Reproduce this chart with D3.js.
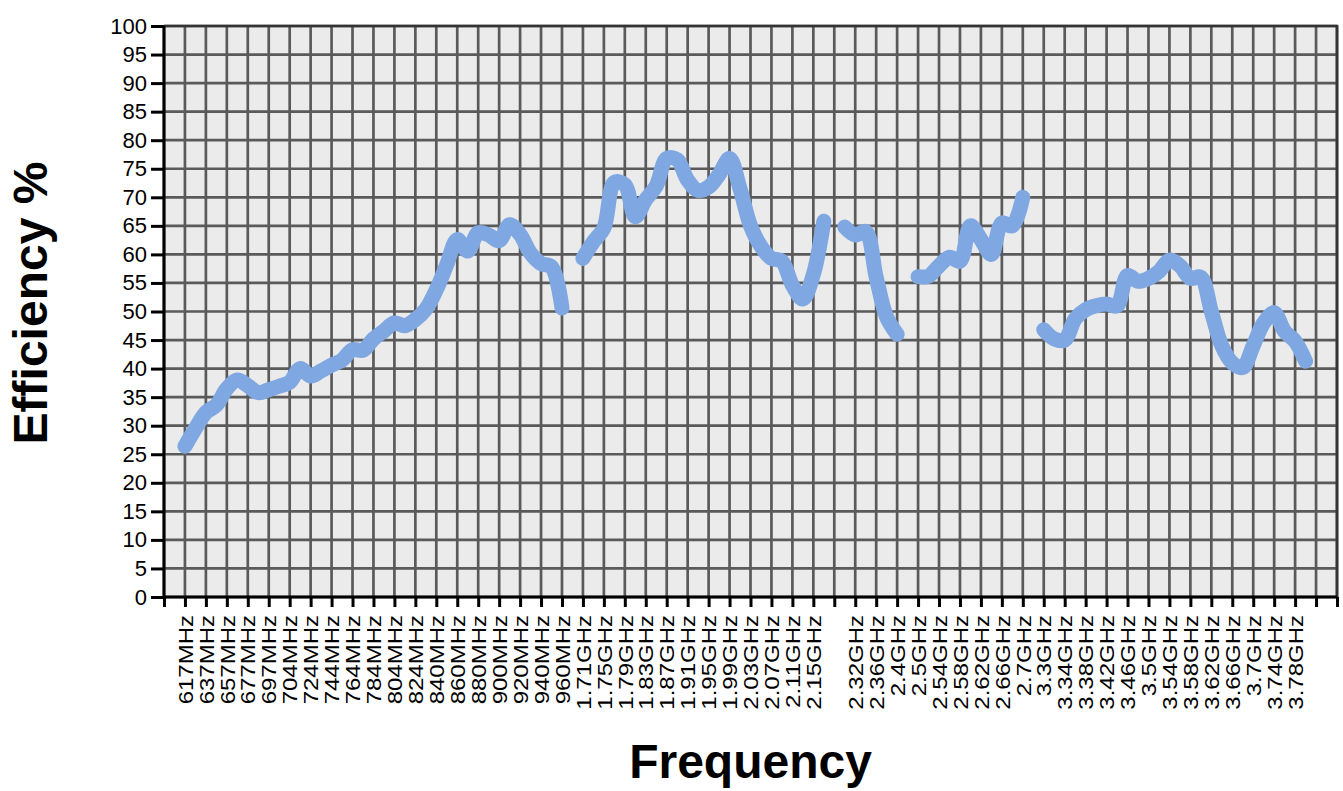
<!DOCTYPE html>
<html lang="en">
<head>
  <meta charset="utf-8">
  <title>Efficiency vs Frequency</title>
  <script src="https://d3js.org/d3.v7.min.js"></script>
  <style>
    body { margin: 0; background: #fff; font-family: "Liberation Sans", Arial, sans-serif; }
    svg { display: block; }
    .grid line { stroke: #5a5a5a; stroke-width: 2.7; }
    .axis path, .axis line { stroke: #000; stroke-width: 3; }
    .axis text { fill: #000; }
  </style>
</head>
<body>
  <svg></svg>
  <script>
    // Tick labels, one per vertical grid line (index 31 has no label)
    const tickLabels = [
      "617MHz", "637MHz", "657MHz", "677MHz", "697MHz", "704MHz", "724MHz", "744MHz",
      "764MHz", "784MHz", "804MHz", "824MHz", "840MHz", "860MHz", "880MHz", "900MHz",
      "920MHz", "940MHz", "960MHz",
      "1.71GHz", "1.75GHz", "1.79GHz", "1.83GHz", "1.87GHz", "1.91GHz", "1.95GHz",
      "1.99GHz", "2.03GHz", "2.07GHz", "2.11GHz", "2.15GHz", "",
      "2.32GHz", "2.36GHz", "2.4GHz", "2.5GHz", "2.54GHz", "2.58GHz", "2.62GHz",
      "2.66GHz", "2.7GHz",
      "3.3GHz", "3.34GHz", "3.38GHz", "3.42GHz", "3.46GHz", "3.5GHz", "3.54GHz",
      "3.58GHz", "3.62GHz", "3.66GHz", "3.7GHz", "3.74GHz", "3.78GHz"
    ];

    // Efficiency (%) measured at every half step of the label axis
    // (labels only shown for every other point); null = break in the curve
    const efficiency = [
      26.4, 29.5, 32.3, 33.6, 36.5, 38.0, 37.0, 35.8, 36.3, 36.9,
      37.6, 40.0, 38.7, 39.6, 40.6, 41.5, 43.3, 43.2, 45.2, 46.6,
      48.0, 47.5, 48.6, 50.4, 53.8, 58.2, 62.6, 60.6, 63.8, 63.4,
      62.4, 65.2, 63.5, 60.2, 58.4, 57.8, 50.6, null,
      59.3, 62.2, 64.6, 72.6, 72.2, 66.6, 69.6, 72.0, 76.8, 76.6,
      73.0, 71.2, 71.8, 74.0, 76.8, 71.5, 65.0, 61.4, 59.3, 58.8,
      54.6, 52.2, 56.5, 65.8, null,
      64.8, 63.4, 64.0, 56.0, 49.0, 46.0, null,
      56.1, 56.2, 58.0, 59.5, 58.8, 65.0, 62.6, 60.0, 65.5, 65.0, 70.0, null,
      46.8, 45.2, 45.0, 48.7, 50.3, 51.0, 51.3, 51.0, 56.3, 55.3,
      55.8, 57.0, 59.0, 58.0, 55.8, 56.0, 50.0, 44.0, 41.0, 40.2,
      44.0, 48.0, 49.8, 46.5, 44.8, 41.3
    ];

    const yTicks = d3.range(0, 101, 5);

    const width = 1343, height = 791;
    const margin = { left: 164, right: 6, top: 26, bottom: 194 };

    const svg = d3.select("svg").attr("width", width).attr("height", height);

    // x in grid units: grid line i carries tickLabels[i]; axis spans -1..55
    const x = d3.scaleLinear()
      .domain([-1, 55])
      .range([margin.left, width - margin.right]);
    const y = d3.scaleLinear()
      .domain([0, 100])
      .range([height - margin.bottom, margin.top]);

    // plot background
    svg.append("rect")
      .attr("x", x(-1)).attr("y", y(100))
      .attr("width", x(55) - x(-1)).attr("height", y(0) - y(100))
      .attr("fill", "#ebebeb");

    // grid
    const grid = svg.append("g").attr("class", "grid");
    grid.selectAll("line.v")
      .data(d3.range(-1, 56))
      .enter().append("line")
        .attr("class", "v")
        .attr("x1", d => x(d)).attr("x2", d => x(d))
        .attr("y1", y(100)).attr("y2", y(0));
    grid.selectAll("line.h")
      .data(yTicks)
      .enter().append("line")
        .attr("class", "h")
        .attr("x1", x(-1)).attr("x2", x(55))
        .attr("y1", d => y(d)).attr("y2", d => y(d));

    // top and right border
    svg.append("path")
      .attr("d", `M${x(-1)},${y(100)}H${x(55)}V${y(0)}`)
      .attr("fill", "none").attr("stroke", "#333").attr("stroke-width", 2.7);

    // efficiency curve, broken at the nulls
    const pts = efficiency.map((v, k) => ({ pos: k / 2, v: v }));
    const line = d3.line()
      .defined(d => d.v !== null)
      .x(d => x(d.pos))
      .y(d => y(d.v))
      .curve(d3.curveCatmullRom.alpha(0.5));
    svg.append("path")
      .datum(pts)
      .attr("d", line)
      .attr("fill", "none")
      .attr("stroke", "#7fa7e1")
      .attr("stroke-width", 15)
      .attr("stroke-linecap", "round")
      .attr("stroke-linejoin", "round");

    // y axis
    const yAxis = svg.append("g")
      .attr("class", "axis")
      .attr("transform", `translate(${x(-1)},0)`)
      .call(d3.axisLeft(y).tickValues(yTicks).tickSize(13).tickPadding(4));
    yAxis.selectAll("text").style("font-size", "22px");
    yAxis.select(".domain").attr("d", `M0,${y(100)}V${y(0)}`);

    // x axis
    const xAxis = svg.append("g")
      .attr("class", "axis")
      .attr("transform", `translate(0,${y(0)})`)
      .call(d3.axisBottom(x)
        .tickValues(d3.range(-1, 56))
        .tickSize(10)
        .tickFormat(d => tickLabels[d] || ""));
    xAxis.select(".domain").attr("d", `M${x(-1)},0H${x(55)}`);
    xAxis.selectAll("text")
      .style("font-size", "20px")
      .attr("text-anchor", "end")
      .attr("y", 0)
      .attr("dy", "0.36em")
      .attr("transform", "translate(0,18) rotate(-90) scale(1.2,1)");

    // axis titles
    svg.append("text")
      .attr("x", (x(-1) + x(55)) / 2)
      .attr("y", 778)
      .attr("text-anchor", "middle")
      .style("font-size", "48px")
      .style("font-weight", "bold")
      .text("Frequency");
    svg.append("text")
      .attr("transform", "translate(47,303) rotate(-90)")
      .attr("text-anchor", "middle")
      .style("font-size", "48px")
      .style("font-weight", "bold")
      .text("Efficiency %");
  </script>
</body>
</html>
